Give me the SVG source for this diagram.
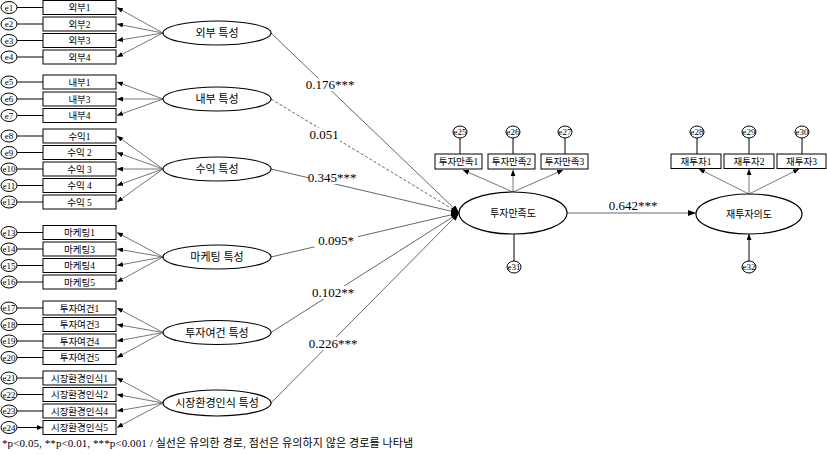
<svg xmlns="http://www.w3.org/2000/svg" width="827" height="455" viewBox="0 0 827 455">
<style>
.bx{fill:#fff;stroke:#000;stroke-width:1}
.er{fill:#fff;stroke:#000;stroke-width:1}
.lv{fill:#fff;stroke:#000;stroke-width:1.2}
.t{font-family:"Liberation Serif","Noto Sans CJK KR",serif;fill:#000;text-anchor:middle}
.tb{font-size:9.5px}
.te{font-size:9px}
.tl{font-size:11px}
.tp{font-size:13px}
.ea{stroke:#000;stroke-width:1;fill:none;marker-end:url(#ab)}
.la{stroke:#666;stroke-width:0.9;fill:none;marker-end:url(#ab)}
.sp{stroke:#555;stroke-width:0.9;fill:none;marker-end:url(#ah)}
.ds{stroke-dasharray:3,2}
.lb{fill:#fff}
</style>
<defs>
<marker id="ab" markerUnits="userSpaceOnUse" markerWidth="6" markerHeight="5" refX="6" refY="2.5" orient="auto"><path d="M0,0 L6,2.5 L0,5 z" fill="#000"/></marker>
<marker id="ah" markerUnits="userSpaceOnUse" markerWidth="8" markerHeight="6" refX="8" refY="3" orient="auto"><path d="M0,0 L8,3 L0,6 z" fill="#000"/></marker>
</defs>
<rect width="827" height="455" fill="#fff"/>

<g id="connectors">
<path class="ea" d="M17,7.5H43M17,24H43M17,40.5H43M17,57H43M17,82H43M17,99H43M17,115.5H43M17,136H43M17,152.5H43M17,169H43M17,185.5H43M17,202H43M17,232.5H43M17,249H43M17,265.5H43M17,282H43M17,308H43M17,324.5H43M17,341H43M17,357.5H43M17,378H43M17,394.5H43M17,411H43M17,427.5H43"/>
<line class="la" x1="163" y1="33" x2="117" y2="7.5"/>
<line class="la" x1="163" y1="33" x2="117" y2="24"/>
<line class="la" x1="163" y1="33" x2="117" y2="40.5"/>
<line class="la" x1="163" y1="33" x2="117" y2="57"/>
<line class="la" x1="163" y1="99" x2="117" y2="82"/>
<line class="la" x1="163" y1="99" x2="117" y2="99"/>
<line class="la" x1="163" y1="99" x2="117" y2="115.5"/>
<line class="la" x1="163" y1="169" x2="117" y2="136"/>
<line class="la" x1="163" y1="169" x2="117" y2="152.5"/>
<line class="la" x1="163" y1="169" x2="117" y2="169"/>
<line class="la" x1="163" y1="169" x2="117" y2="185.5"/>
<line class="la" x1="163" y1="169" x2="117" y2="202"/>
<line class="la" x1="163" y1="257" x2="117" y2="232.5"/>
<line class="la" x1="163" y1="257" x2="117" y2="249"/>
<line class="la" x1="163" y1="257" x2="117" y2="265.5"/>
<line class="la" x1="163" y1="257" x2="117" y2="282"/>
<line class="la" x1="163" y1="332.5" x2="117" y2="308"/>
<line class="la" x1="163" y1="332.5" x2="117" y2="324.5"/>
<line class="la" x1="163" y1="332.5" x2="117" y2="341"/>
<line class="la" x1="163" y1="332.5" x2="117" y2="357.5"/>
<line class="la" x1="163" y1="403" x2="117" y2="378"/>
<line class="la" x1="163" y1="403" x2="117" y2="394.5"/>
<line class="la" x1="163" y1="403" x2="117" y2="411"/>
<line class="la" x1="163" y1="403" x2="117" y2="427.5"/>
<line class="sp" x1="271" y1="33" x2="459" y2="213"/>
<line class="sp ds" x1="271" y1="99" x2="459" y2="213"/>
<line class="sp" x1="271" y1="169" x2="459" y2="213"/>
<line class="sp" x1="271" y1="257" x2="459" y2="213"/>
<line class="sp" x1="271" y1="332.5" x2="459" y2="213"/>
<line class="sp" x1="271" y1="403" x2="459" y2="213"/>
<line class="sp" x1="567" y1="213" x2="696" y2="213"/>
<path class="ea" d="M460,138V154M513,138V154M565,138V154M697,138V154M749,138V154M802,138V154M514,261V234M749,261V234"/>
<line class="la" x1="513" y1="192" x2="463" y2="170"/>
<line class="la" x1="513" y1="192" x2="513" y2="170"/>
<line class="la" x1="513" y1="192" x2="563" y2="170"/>
<line class="la" x1="749" y1="194" x2="699" y2="169"/>
<line class="la" x1="749" y1="194" x2="749" y2="169"/>
<line class="la" x1="749" y1="194" x2="799" y2="169"/>
<rect class="lb" x="306" y="78" width="48" height="13"/>
<text class="t tp" x="330" y="89">0.176***</text>
<rect class="lb" x="308" y="128" width="32" height="13"/>
<text class="t tp" x="324" y="139">0.051</text>
<rect class="lb" x="308" y="171" width="48" height="13"/>
<text class="t tp" x="332" y="182">0.345***</text>
<rect class="lb" x="314" y="234" width="44" height="13"/>
<text class="t tp" x="336" y="245">0.095*</text>
<rect class="lb" x="309" y="286" width="48" height="13"/>
<text class="t tp" x="333" y="297">0.102**</text>
<rect class="lb" x="309" y="337" width="48" height="13"/>
<text class="t tp" x="333" y="348">0.226***</text>
<text class="t tp" x="633" y="210">0.642***</text>
</g>

<g id="lv_ext"><ellipse class="lv" cx="217" cy="33" rx="54" ry="12"/><text class="t tl" x="217" y="37">외부 특성</text></g>
<g id="lv_int"><ellipse class="lv" cx="217" cy="99" rx="54" ry="12"/><text class="t tl" x="217" y="103">내부 특성</text></g>
<g id="lv_rev"><ellipse class="lv" cx="217" cy="169" rx="54" ry="12"/><text class="t tl" x="217" y="173">수익 특성</text></g>
<g id="lv_mkt"><ellipse class="lv" cx="217" cy="257" rx="54" ry="12"/><text class="t tl" x="217" y="261">마케팅 특성</text></g>
<g id="lv_inv"><ellipse class="lv" cx="217" cy="332.5" rx="54" ry="12"/><text class="t tl" x="217" y="336.5">투자여건 특성</text></g>
<g id="lv_env"><ellipse class="lv" cx="217" cy="403" rx="54" ry="13"/><text class="t tl" x="217" y="407">시장환경인식 특성</text></g>
<g id="lv_sat"><ellipse class="lv" cx="513" cy="213" rx="54" ry="21"/><text class="t tb" x="513" y="217" style="font-size:10px">투자만족도</text></g>
<g id="lv_rei"><ellipse class="lv" cx="749" cy="214" rx="53" ry="20"/><text class="t tb" x="749" y="218" style="font-size:10px">재투자의도</text></g>

<g id="i1"><rect class="bx" x="43" y="0.5" width="73" height="14"/><text class="t tb" x="79.5" y="11">외부1</text></g>
<g id="i2"><rect class="bx" x="43" y="17" width="73" height="14"/><text class="t tb" x="79.5" y="27.5">외부2</text></g>
<g id="i3"><rect class="bx" x="43" y="33.5" width="73" height="14"/><text class="t tb" x="79.5" y="44">외부3</text></g>
<g id="i4"><rect class="bx" x="43" y="50" width="73" height="14"/><text class="t tb" x="79.5" y="60.5">외부4</text></g>
<g id="i5"><rect class="bx" x="43" y="75" width="73" height="14"/><text class="t tb" x="79.5" y="85.5">내부1</text></g>
<g id="i6"><rect class="bx" x="43" y="92" width="73" height="14"/><text class="t tb" x="79.5" y="102.5">내부3</text></g>
<g id="i7"><rect class="bx" x="43" y="108.5" width="73" height="14"/><text class="t tb" x="79.5" y="119">내부4</text></g>
<g id="i8"><rect class="bx" x="43" y="129" width="73" height="14"/><text class="t tb" x="79.5" y="139.5">수익1</text></g>
<g id="i9"><rect class="bx" x="43" y="145.5" width="73" height="14"/><text class="t tb" x="79.5" y="156">수익 2</text></g>
<g id="i10"><rect class="bx" x="43" y="162" width="73" height="14"/><text class="t tb" x="79.5" y="172.5">수익 3</text></g>
<g id="i11"><rect class="bx" x="43" y="178.5" width="73" height="14"/><text class="t tb" x="79.5" y="189">수익 4</text></g>
<g id="i12"><rect class="bx" x="43" y="195" width="73" height="14"/><text class="t tb" x="79.5" y="205.5">수익 5</text></g>
<g id="i13"><rect class="bx" x="43" y="225.5" width="73" height="14"/><text class="t tb" x="79.5" y="236">마케팅1</text></g>
<g id="i14"><rect class="bx" x="43" y="242" width="73" height="14"/><text class="t tb" x="79.5" y="252.5">마케팅3</text></g>
<g id="i15"><rect class="bx" x="43" y="258.5" width="73" height="14"/><text class="t tb" x="79.5" y="269">마케팅4</text></g>
<g id="i16"><rect class="bx" x="43" y="275" width="73" height="14"/><text class="t tb" x="79.5" y="285.5">마케팅5</text></g>
<g id="i17"><rect class="bx" x="43" y="301" width="73" height="14"/><text class="t tb" x="79.5" y="311.5">투자여건1</text></g>
<g id="i18"><rect class="bx" x="43" y="317.5" width="73" height="14"/><text class="t tb" x="79.5" y="328">투자여건3</text></g>
<g id="i19"><rect class="bx" x="43" y="334" width="73" height="14"/><text class="t tb" x="79.5" y="344.5">투자여건4</text></g>
<g id="i20"><rect class="bx" x="43" y="350.5" width="73" height="14"/><text class="t tb" x="79.5" y="361">투자여건5</text></g>
<g id="i21"><rect class="bx" x="43" y="371" width="73" height="14"/><text class="t tb" x="79.5" y="381.5">시장환경인식1</text></g>
<g id="i22"><rect class="bx" x="43" y="387.5" width="73" height="14"/><text class="t tb" x="79.5" y="398">시장환경인식2</text></g>
<g id="i23"><rect class="bx" x="43" y="404" width="73" height="14"/><text class="t tb" x="79.5" y="414.5">시장환경인식4</text></g>
<g id="i24"><rect class="bx" x="43" y="420.5" width="73" height="14"/><text class="t tb" x="79.5" y="431">시장환경인식5</text></g>

<g id="e1"><ellipse class="er" cx="9" cy="7.5" rx="8" ry="6"/><text class="t te" x="9" y="10.5">e1</text></g>
<g id="e2"><ellipse class="er" cx="9" cy="24" rx="8" ry="6"/><text class="t te" x="9" y="27">e2</text></g>
<g id="e3"><ellipse class="er" cx="9" cy="40.5" rx="8" ry="6"/><text class="t te" x="9" y="43.5">e3</text></g>
<g id="e4"><ellipse class="er" cx="9" cy="57" rx="8" ry="6"/><text class="t te" x="9" y="60">e4</text></g>
<g id="e5"><ellipse class="er" cx="9" cy="82" rx="8" ry="6"/><text class="t te" x="9" y="85">e5</text></g>
<g id="e6"><ellipse class="er" cx="9" cy="99" rx="8" ry="6"/><text class="t te" x="9" y="102">e6</text></g>
<g id="e7"><ellipse class="er" cx="9" cy="115.5" rx="8" ry="6"/><text class="t te" x="9" y="118.5">e7</text></g>
<g id="e8"><ellipse class="er" cx="9" cy="136" rx="8" ry="6"/><text class="t te" x="9" y="139">e8</text></g>
<g id="e9"><ellipse class="er" cx="9" cy="152.5" rx="8" ry="6"/><text class="t te" x="9" y="155.5">e9</text></g>
<g id="e10"><ellipse class="er" cx="9" cy="169" rx="8" ry="6"/><text class="t te" x="9" y="172">e10</text></g>
<g id="e11"><ellipse class="er" cx="9" cy="185.5" rx="8" ry="6"/><text class="t te" x="9" y="188.5">e11</text></g>
<g id="e12"><ellipse class="er" cx="9" cy="202" rx="8" ry="6"/><text class="t te" x="9" y="205">e12</text></g>
<g id="e13"><ellipse class="er" cx="9" cy="232.5" rx="8" ry="6"/><text class="t te" x="9" y="235.5">e13</text></g>
<g id="e14"><ellipse class="er" cx="9" cy="249" rx="8" ry="6"/><text class="t te" x="9" y="252">e14</text></g>
<g id="e15"><ellipse class="er" cx="9" cy="265.5" rx="8" ry="6"/><text class="t te" x="9" y="268.5">e15</text></g>
<g id="e16"><ellipse class="er" cx="9" cy="282" rx="8" ry="6"/><text class="t te" x="9" y="285">e16</text></g>
<g id="e17"><ellipse class="er" cx="9" cy="308" rx="8" ry="6"/><text class="t te" x="9" y="311">e17</text></g>
<g id="e18"><ellipse class="er" cx="9" cy="324.5" rx="8" ry="6"/><text class="t te" x="9" y="327.5">e18</text></g>
<g id="e19"><ellipse class="er" cx="9" cy="341" rx="8" ry="6"/><text class="t te" x="9" y="344">e19</text></g>
<g id="e20"><ellipse class="er" cx="9" cy="357.5" rx="8" ry="6"/><text class="t te" x="9" y="360.5">e20</text></g>
<g id="e21"><ellipse class="er" cx="9" cy="378" rx="8" ry="6"/><text class="t te" x="9" y="381">e21</text></g>
<g id="e22"><ellipse class="er" cx="9" cy="394.5" rx="8" ry="6"/><text class="t te" x="9" y="397.5">e22</text></g>
<g id="e23"><ellipse class="er" cx="9" cy="411" rx="8" ry="6"/><text class="t te" x="9" y="414">e23</text></g>
<g id="e24"><ellipse class="er" cx="9" cy="427.5" rx="8" ry="6"/><text class="t te" x="9" y="430.5">e24</text></g>

<g id="i25"><rect class="bx" x="435" y="154" width="47" height="15"/><text class="t tb" x="458.5" y="165">투자만족1</text></g>
<g id="i26"><rect class="bx" x="488" y="154" width="47" height="15"/><text class="t tb" x="511.5" y="165">투자만족2</text></g>
<g id="i27"><rect class="bx" x="541" y="154" width="47" height="15"/><text class="t tb" x="564.5" y="165">투자만족3</text></g>
<g id="i28"><rect class="bx" x="671" y="154" width="50" height="14.5"/><text class="t tb" x="696" y="165">재투자1</text></g>
<g id="i29"><rect class="bx" x="724" y="154" width="50" height="14.5"/><text class="t tb" x="749" y="165">재투자2</text></g>
<g id="i30"><rect class="bx" x="777" y="154" width="49" height="14.5"/><text class="t tb" x="801.5" y="165">재투자3</text></g>

<g id="e25"><ellipse class="er" cx="460" cy="132" rx="7" ry="6"/><text class="t te" x="460" y="135">e25</text></g>
<g id="e26"><ellipse class="er" cx="513" cy="132" rx="7" ry="6"/><text class="t te" x="513" y="135">e26</text></g>
<g id="e27"><ellipse class="er" cx="565" cy="132" rx="7" ry="6"/><text class="t te" x="565" y="135">e27</text></g>
<g id="e28"><ellipse class="er" cx="697" cy="132" rx="7" ry="6"/><text class="t te" x="697" y="135">e28</text></g>
<g id="e29"><ellipse class="er" cx="749" cy="132" rx="7" ry="6"/><text class="t te" x="749" y="135">e29</text></g>
<g id="e30"><ellipse class="er" cx="802" cy="132" rx="7" ry="6"/><text class="t te" x="802" y="135">e30</text></g>
<g id="e31"><ellipse class="er" cx="514" cy="267" rx="7" ry="6"/><text class="t te" x="514" y="270">e31</text></g>
<g id="e32"><ellipse class="er" cx="749" cy="267" rx="7" ry="6"/><text class="t te" x="749" y="270">e32</text></g>

<text id="note" x="2" y="447" textLength="411" lengthAdjust="spacing" style="font-family:'Liberation Serif','Noto Sans CJK KR',serif;font-size:11px;fill:#000">*p&lt;0.05, **p&lt;0.01, ***p&lt;0.001  / 실선은 유의한 경로, 점선은 유의하지 않은 경로를 나타냄</text>
</svg>
